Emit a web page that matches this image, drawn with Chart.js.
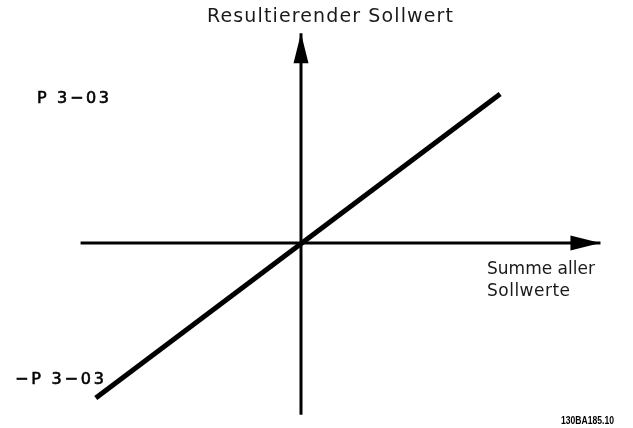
<!DOCTYPE html>
<html>
<head>
<meta charset="utf-8">
<script src="https://cdn.jsdelivr.net/npm/chart.js@4.4.0/dist/chart.umd.min.js"></script>
<style>
  html, body { margin: 0; padding: 0; background: #fff; }
  #wrap { width: 633px; height: 428px; }
</style>
</head>
<body>
<div id="wrap"><canvas id="refChart" width="633" height="428"></canvas></div>
<script>
// values in units of P 3-03 (y) and same pixel scale for x
const setpointX = [-1.35, 1.31];
const setpointY = [-1.02, 0.98];
const xAxisExtent = [-1.45, 1.97];
const yAxisExtent = [-1.13, 1.38];
const xRange = [-1.98, 2.184];
const yRange = [-1.217, 1.599];

const yTitle = 'Resultierender Sollwert';
const xTitle = ['Summe aller', 'Sollwerte'];
const upperLabel = 'P 3\u221203';
const lowerLabel = '\u2212P 3\u221203';
const docCode = '130BA185.10';

// draws text left aligned, stretched with letter spacing to a given width
function drawFitted(ctx, text, x, y, width, font, stroke) {
  ctx.font = font;
  ctx.letterSpacing = '0px';
  const natural = ctx.measureText(text).width;
  const gap = Math.max(0, (width - natural) / (text.length - 1));
  ctx.letterSpacing = gap.toFixed(2) + 'px';
  ctx.fillText(text, x, y);
  if (stroke) {
    ctx.lineWidth = stroke;
    ctx.strokeText(text, x, y);
  }
  ctx.letterSpacing = '0px';
}

const arrowsAndText = {
  id: 'arrowsAndText',
  afterDatasetsDraw(chart) {
    const ctx = chart.ctx;
    const xs = chart.scales.x, ys = chart.scales.y;
    const x0 = xs.getPixelForValue(0), y0 = ys.getPixelForValue(0);
    const xTip = xs.getPixelForValue(xAxisExtent[1]);
    const yTip = ys.getPixelForValue(yAxisExtent[1]);

    ctx.save();
    ctx.fillStyle = '#000';
    ctx.strokeStyle = '#000';
    // arrow on x axis
    ctx.beginPath();
    ctx.moveTo(xTip, y0);
    ctx.lineTo(xTip - 30, y0 - 7.5);
    ctx.lineTo(xTip - 30, y0 + 7.5);
    ctx.closePath();
    ctx.fill();
    // arrow on y axis
    ctx.beginPath();
    ctx.moveTo(x0, yTip);
    ctx.lineTo(x0 - 7.5, yTip + 30);
    ctx.lineTo(x0 + 7.5, yTip + 30);
    ctx.closePath();
    ctx.fill();

    ctx.textBaseline = 'middle';
    ctx.textAlign = 'left';
    ctx.fillStyle = '#1a1a1a';
    drawFitted(ctx, yTitle, 207, 17, 246, '19px "DejaVu Sans"');
    drawFitted(ctx, xTitle[0], 487, 270, 108, '17px "DejaVu Sans"');
    drawFitted(ctx, xTitle[1], 487, 292, 83, '17px "DejaVu Sans"');

    ctx.fillStyle = '#000';
    drawFitted(ctx, upperLabel, 37, 99, 72, '16px "DejaVu Sans"', 0.6);
    drawFitted(ctx, lowerLabel, 15, 380, 89, '16px "DejaVu Sans"', 0.6);

    // condensed small print code at the bottom right
    ctx.translate(614, 421);
    ctx.scale(0.78, 1);
    ctx.font = 'bold 11px "Liberation Sans"';
    ctx.textAlign = 'right';
    ctx.fillText(docCode, 0, 0);
    ctx.restore();
  }
};

new Chart(document.getElementById('refChart'), {
  type: 'scatter',
  data: {
    datasets: [
      {
        data: xAxisExtent.map(v => ({ x: v, y: 0 })),
        showLine: true, borderColor: '#000', borderWidth: 3, pointRadius: 0
      },
      {
        data: yAxisExtent.map(v => ({ x: 0, y: v })),
        showLine: true, borderColor: '#000', borderWidth: 3, pointRadius: 0
      },
      {
        data: setpointX.map((v, i) => ({ x: v, y: setpointY[i] })),
        showLine: true, borderColor: '#000', borderWidth: 5, pointRadius: 0
      }
    ]
  },
  options: {
    responsive: false,
    animation: false,
    layout: { padding: 0 },
    plugins: { legend: { display: false }, tooltip: { enabled: false } },
    scales: {
      x: { type: 'linear', min: xRange[0], max: xRange[1], display: false },
      y: { type: 'linear', min: yRange[0], max: yRange[1], display: false }
    }
  },
  plugins: [arrowsAndText]
});
</script>
</body>
</html>
